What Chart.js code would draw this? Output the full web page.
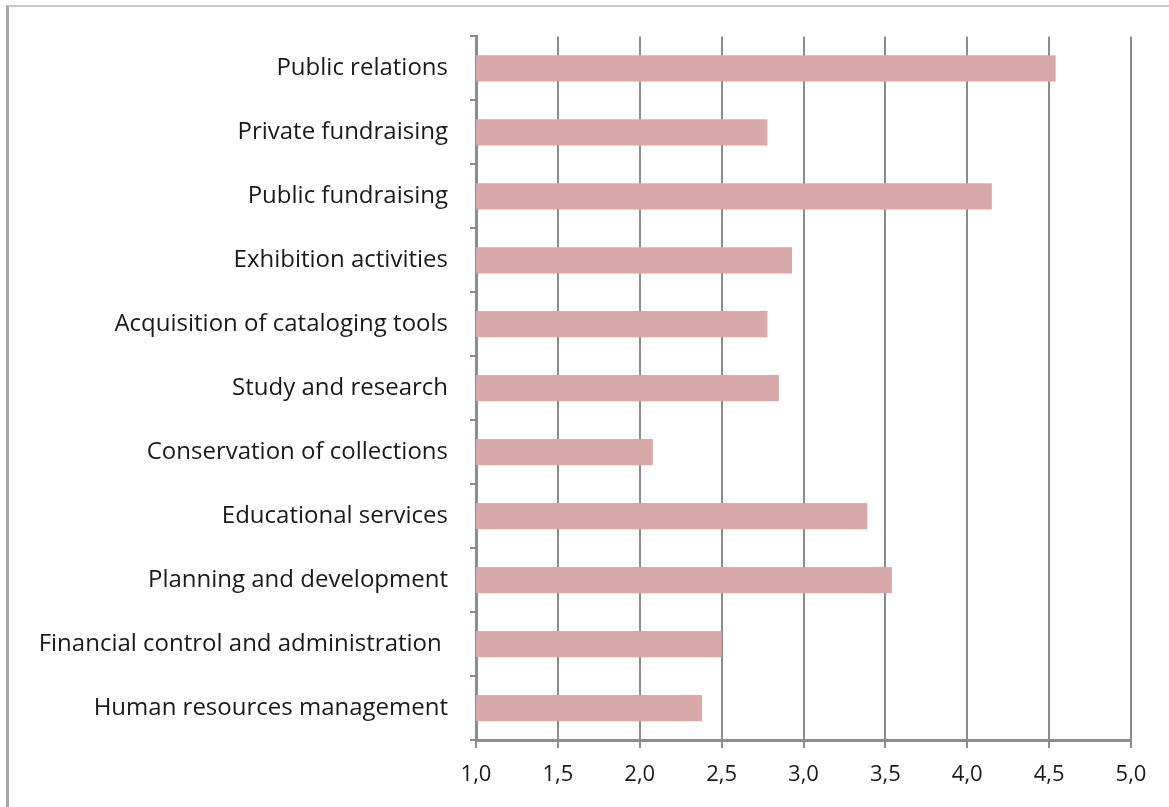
<!DOCTYPE html>
<html>
<head>
<meta charset="utf-8">
<script src="https://cdn.jsdelivr.net/npm/chart.js@4/dist/chart.umd.min.js"></script>
<style>
  html, body { margin: 0; padding: 0; background: #fff; overflow: hidden; }
  #frame {
    position: absolute; left: 6px; top: 5px; width: 1300px; height: 900px;
    border-top: 2px solid #c8c8c8; border-left: 3px solid #a8a8a8;
  }
  #wrap { position: absolute; left: 0; top: 0; width: 1169px; height: 807px; }
</style>
</head>
<body>
<div id="frame"></div>
<div id="wrap"><canvas id="chart" width="1169" height="807"></canvas></div>
<script>
// Categories, top to bottom
const categories = [
  'Public relations',
  'Private fundraising',
  'Public fundraising',
  'Exhibition activities',
  'Acquisition of cataloging tools',
  'Study and research',
  'Conservation of collections',
  'Educational services',
  'Planning and development',
  'Financial control and administration ',
  'Human resources management'
];

// Mean scores
const scores = [4.54, 2.78, 4.15, 2.93, 2.78, 2.85, 2.08, 3.39, 3.54, 2.50, 2.38];

// x axis range
const xMin = 1.0;
const xMax = 5.0;
const xStep = 0.5;

const fontFamily = "'Open Sans', 'Noto Sans', sans-serif";

new Chart(document.getElementById('chart'), {
  type: 'bar',
  data: {
    labels: categories,
    datasets: [{
      data: scores,
      backgroundColor: '#d9a8a8',
      borderWidth: 0,
      categoryPercentage: 1,
      barPercentage: 0.41
    }]
  },
  options: {
    indexAxis: 'y',
    responsive: false,
    animation: false,
    layout: { padding: { top: 36, right: 38, bottom: 0, left: 0 } },
    plugins: { legend: { display: false }, tooltip: { enabled: false } },
    scales: {
      x: {
        min: xMin,
        max: xMax,
        ticks: {
          stepSize: xStep,
          color: '#1a1a1a',
          font: { family: fontFamily, size: 22 },
          padding: 14,
          callback: v => v.toFixed(1).replace('.', ',')
        },
        grid: { color: '#8c8c8c', lineWidth: 2, tickLength: 8 },
        border: { color: '#8c8c8c', width: 3 },
        afterFit: scale => { scale.height = 67; }
      },
      y: {
        ticks: { color: '#1a1a1a', font: { family: fontFamily, size: 24 }, padding: 22, autoSkip: false },
        grid: { offset: true, drawOnChartArea: false, tickLength: 6, color: '#8c8c8c', lineWidth: 2 },
        border: { color: '#8c8c8c', width: 3 },
        afterFit: scale => { scale.width = 476; }
      }
    }
  }
});
</script>
</body>
</html>
